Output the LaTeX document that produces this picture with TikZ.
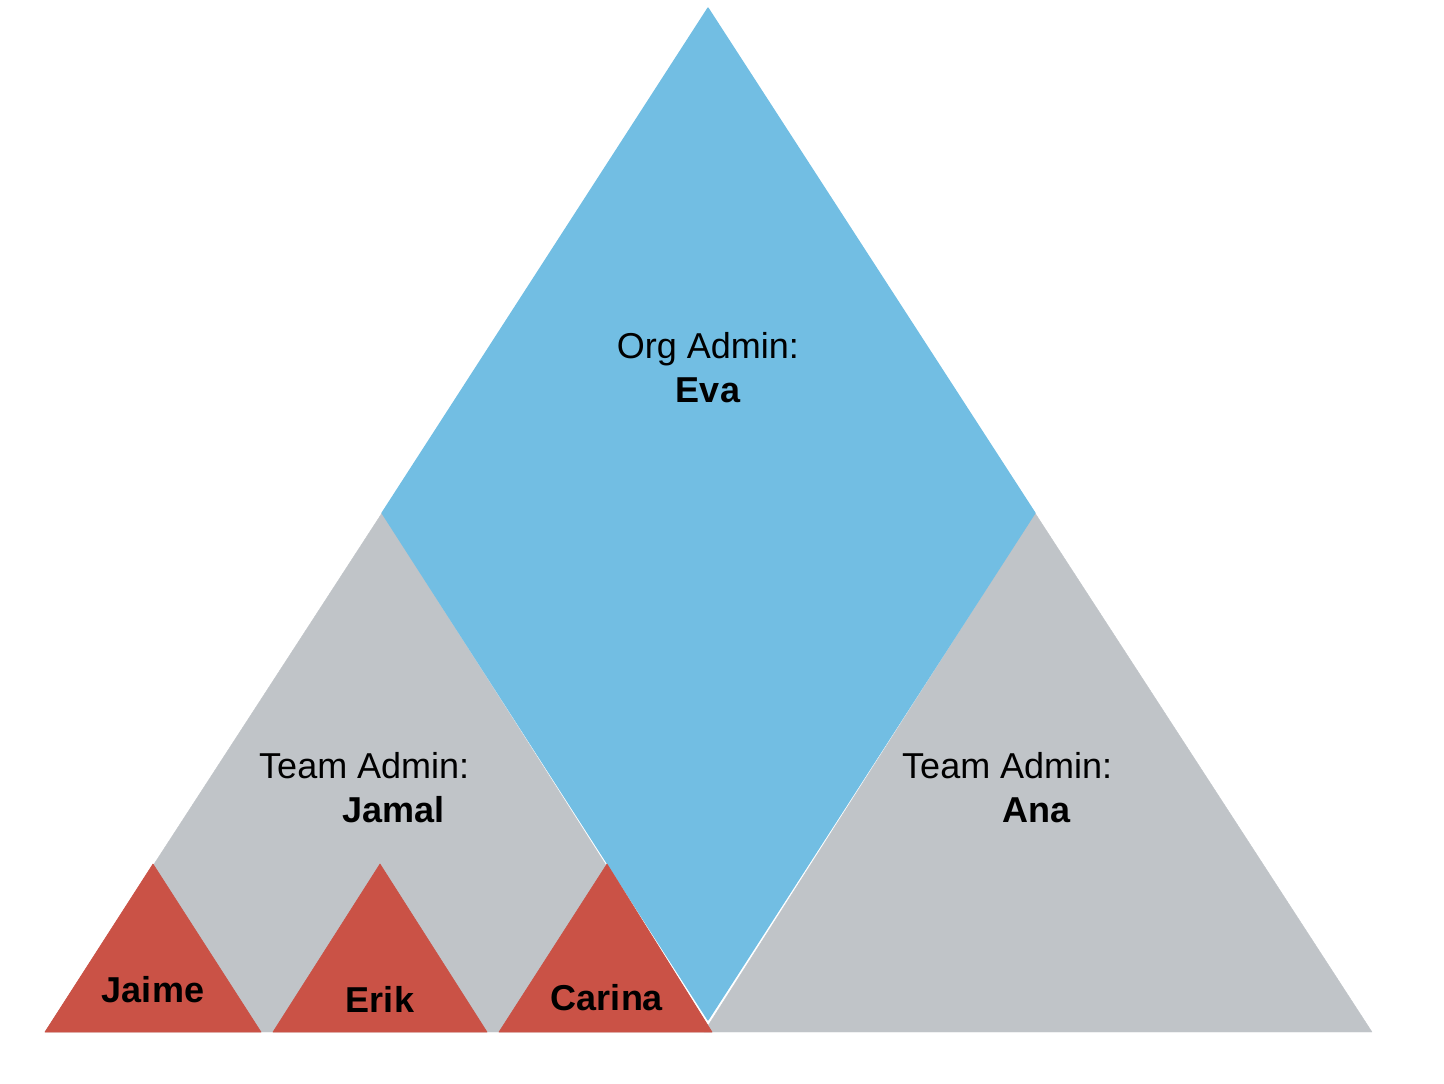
\documentclass[tikz,border=0pt]{standalone}
\usepackage{fontspec}
\setmainfont{Liberation Sans}
\definecolor{grayfill}{RGB}{192,196,200}
\definecolor{bluefill}{RGB}{114,190,227}
\definecolor{redfill}{RGB}{202,82,70}
\tikzset{
  lbl/.style={inner sep=0pt, font=\fontsize{36}{44}\selectfont, text=black},
  blbl/.style={lbl, font=\fontsize{36}{44}\selectfont\bfseries},
  shapefill/.style={fill=#1, draw=#1, line width=1.2pt, line join=round},
}
\begin{document}
\begin{tikzpicture}[x=1pt,y=-1pt]
\useasboundingbox (0,0) rectangle (1444,1084);
% gray team triangles
\filldraw[shapefill=grayfill, line width=0.4pt] (382,513) -- (45,1032) -- (712,1032) -- cycle;
\filldraw[shapefill=grayfill, line width=0.4pt] (1035,513) -- (704,1032) -- (1372,1032) -- cycle;
% blue org diamond
\filldraw[shapefill=bluefill] (708,8) -- (1035,513) -- (708,1020) -- (382,513) -- cycle;
% red user triangles
\filldraw[shapefill=redfill, line width=0.6pt] (153,864) -- (45,1032) -- (261,1032) -- cycle;
\filldraw[shapefill=redfill, line width=0.6pt] (380,864) -- (273,1032) -- (487,1032) -- cycle;
\filldraw[shapefill=redfill, line width=0.6pt] (607,864) -- (499,1032) -- (712,1032) -- cycle;
% labels
\node[lbl, anchor=base] (org) at (708,358) {Org Admin:};
\node[blbl, anchor=base] (eva) at (708,402) {Eva};
\node[lbl, anchor=base west] (teamL) at (259,778) {Team Admin:};
\node[blbl, anchor=base west] (jamal) at (342,822) {Jamal};
\node[lbl, anchor=base west] (teamR) at (902,778) {Team Admin:};
\node[blbl, anchor=base west] (ana) at (1002,822) {Ana};
\node[blbl, anchor=base] (jaime) at (153,1002) {Jaime};
\node[blbl, anchor=base] (erik) at (380,1012) {Erik};
\node[blbl, anchor=base] (carina) at (607,1010) {Carina};
\end{tikzpicture}
\end{document}
